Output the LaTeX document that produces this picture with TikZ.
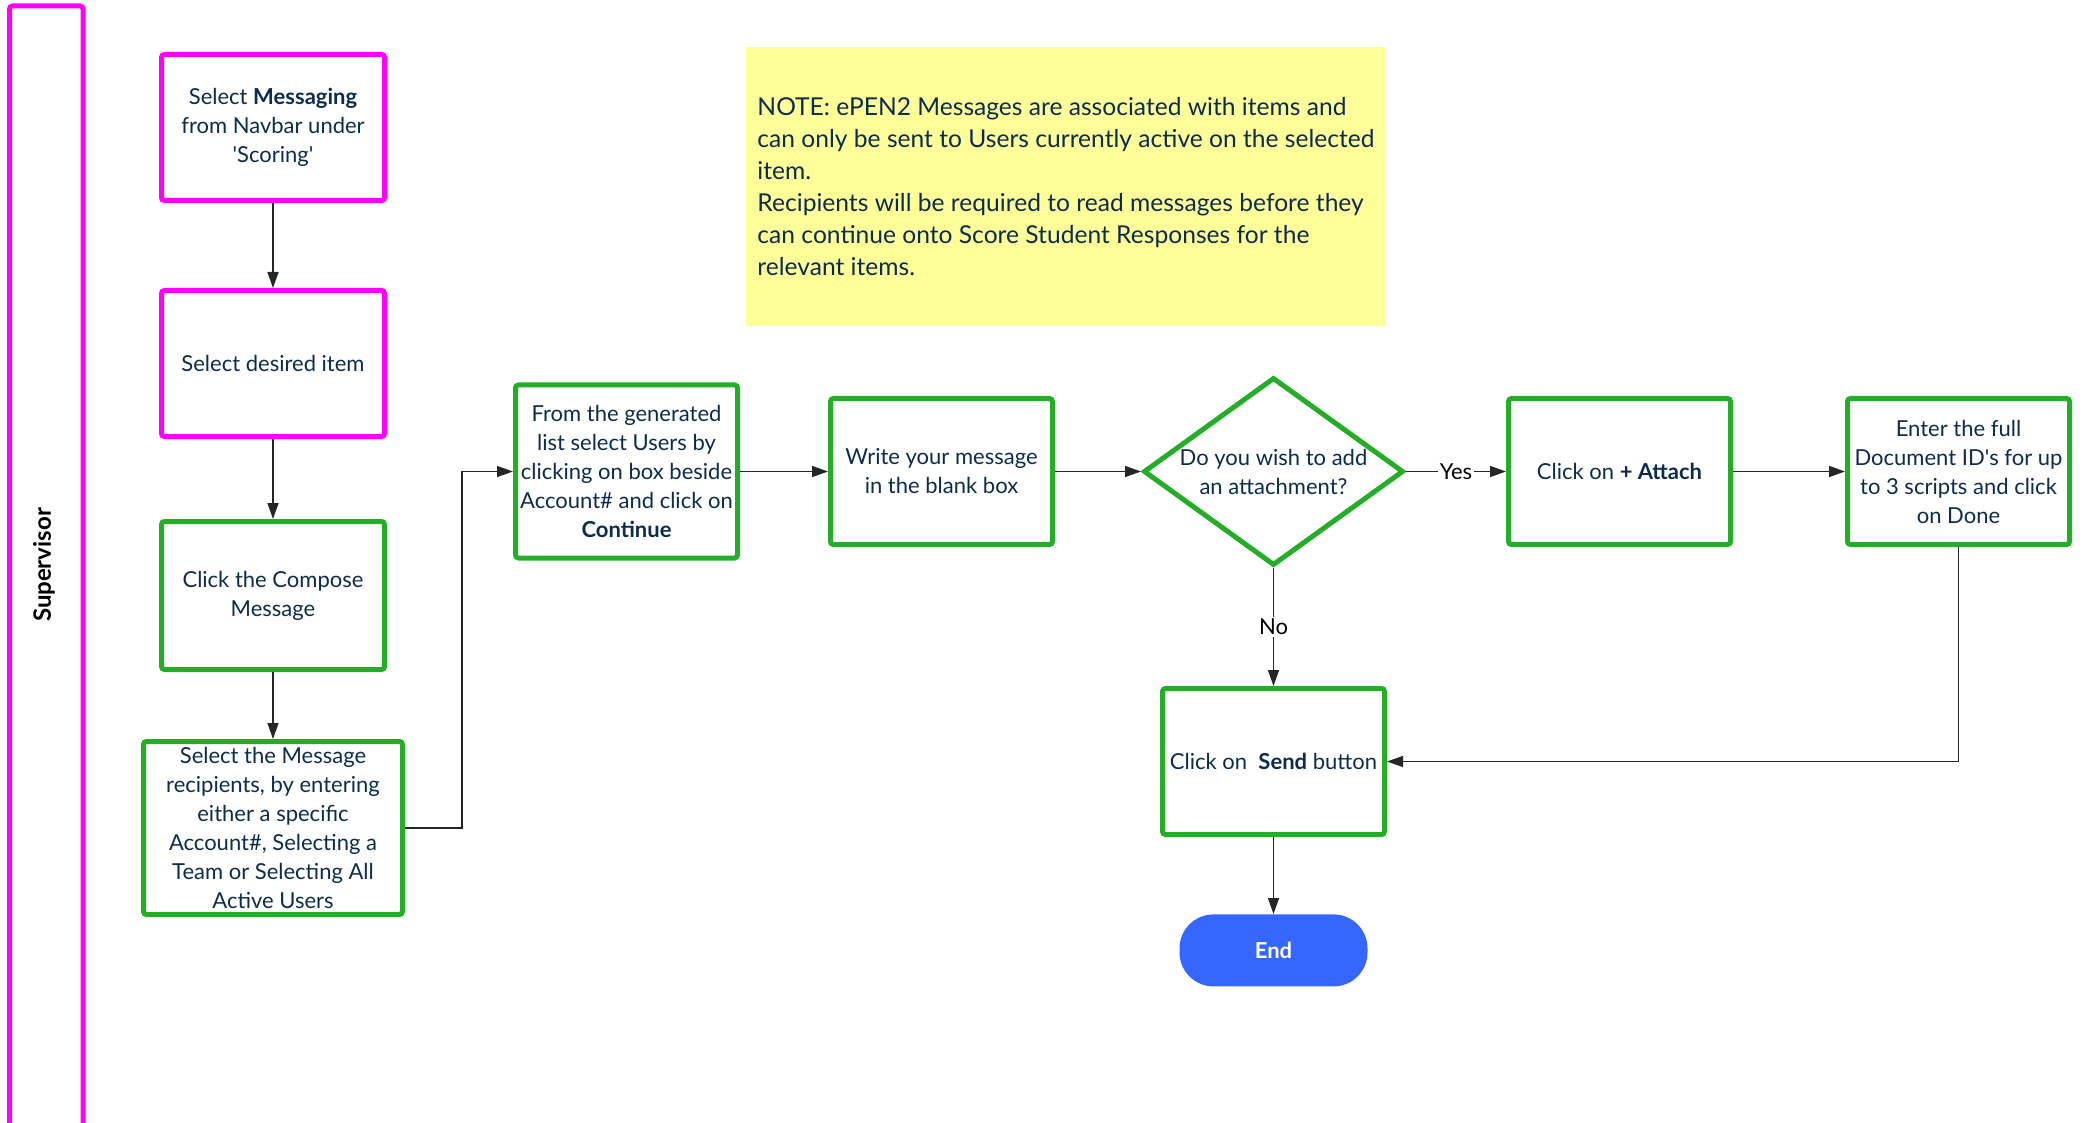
\documentclass[tikz,border=0pt]{standalone}
\usepackage{fontspec}
\setmainfont{Lato}
\usepackage{xcolor}
\usetikzlibrary{arrows.meta, positioning, shapes.geometric}

\definecolor{lanepink}{RGB}{255,0,255}
\definecolor{stepgreen}{RGB}{36,174,40}
\definecolor{navytext}{RGB}{12,44,78}
\definecolor{notefill}{RGB}{255,255,153}
\definecolor{endblue}{RGB}{53,102,255}

\begin{document}
\begin{tikzpicture}[
        x=0.5pt, y=-0.5pt,
        stepbase/.style={
            rectangle,
            draw,
            rounded corners=1.5pt,
            line width=2.5pt,
            text=navytext,
            font=\fontsize{11}{14.5}\selectfont,
            align=center,
            inner sep=1pt
        },
        pinkbox/.style={stepbase, draw=lanepink, minimum width=111.5pt, minimum height=73pt},
        greenbox/.style={stepbase, draw=stepgreen, minimum width=111pt, minimum height=73pt},
        decision/.style={
            diamond,
            draw=stepgreen,
            line width=2.5pt,
            text=navytext,
            font=\fontsize{11}{14.5}\selectfont,
            align=center,
            shape aspect=1.39,
            minimum width=130pt,
            minimum height=94pt,
            inner sep=0pt
        },
        terminal/.style={
            rectangle,
            rounded corners=17pt,
            fill=endblue,
            text=white,
            font=\fontsize{11}{14}\selectfont\bfseries,
            minimum width=94pt,
            minimum height=36pt
        },
        notebox/.style={
            rectangle,
            fill=notefill,
            text=navytext,
            font=\fontsize{12.3}{16}\selectfont,
            align=left,
            minimum width=320pt,
            minimum height=139.5pt
        },
        lbl/.style={fill=white, inner sep=1pt, font=\fontsize{11}{13}\selectfont},
        conn/.style={->, draw=black!85, line width=0.7pt},
        >={Triangle[length=8pt,width=5.5pt]},
        node distance=42.5pt and 44pt
    ]

    \useasboundingbox (0,0) rectangle (2084,1123);

    % Swimlane
    \draw[lanepink, line width=2.5pt, rounded corners=1.5pt] (9.5,6) rectangle (83,1150);
    \node[rotate=90, font=\fontsize{12}{14}\selectfont\bfseries] (lanelabel) at (44,565) {Supervisor};

    % Note
    \node[notebox] (note) at (1066,186.5) {NOTE: ePEN2 Messages are associated with items and\\
        can only be sent to Users currently active on the selected\\
        item.\\
        Recipients will be required to read messages before they\\
        can continue onto Score Student Responses for the\\
        relevant items.};

    % Nodes
    \node[pinkbox] (msg) at (273,127.5) {Select \textbf{Messaging}\\from Navbar under\\\textquotesingle Scoring\textquotesingle};
    \node[pinkbox, below=42.5pt of msg] (item) {Select desired item};
    \node[greenbox, minimum width=111.5pt, minimum height=74pt, below=40pt of item] (compose) {Click the Compose\\Message};
    \node[greenbox, minimum width=129.5pt, minimum height=86.5pt, below=33.5pt of compose] (recip) {Select the Message\\recipients, by entering\\either a specific\\Account\#, Selecting a\\Team or Selecting All\\Active Users};
    \node[greenbox, minimum height=86.5pt] (gen) at (626.5,471.5) {From the generated\\list select Users by\\clicking on box beside\\Account\# and click on\\\textbf{Continue}};
    \node[greenbox, right=44pt of gen] (write) {Write your message\\in the blank box};
    \node[decision, right=43pt of write] (ask) {Do you wish to add\\an attachment?};
    \node[greenbox, right=50pt of ask] (attach) {Click on \textbf{+ Attach}};
    \node[greenbox, right=56pt of attach] (docid) {Enter the full\\Document ID\textquotesingle s for up\\to 3 scripts and click\\on Done};
    \node[greenbox, below=59pt of ask] (send) {Click on~ \textbf{Send} button};
    \node[terminal, below=38.5pt of send] (end) {End};

    % Arrows
    \draw[conn] (msg) -- (item);
    \draw[conn] (item) -- (compose);
    \draw[conn] (compose) -- (recip);
    \draw[conn] (recip.east) -- ++(57,0) |- (gen.west);
    \draw[conn] (gen) -- (write);
    \draw[conn] (write) -- (ask);
    \draw[conn] (ask) -- node[lbl] {Yes} (attach);
    \draw[conn] (attach) -- (docid);
    \draw[conn] (ask) -- node[lbl] {No} (send);
    \draw[conn] (docid.south) |- (send.east);
    \draw[conn] (send) -- (end);

\end{tikzpicture}
\end{document}
